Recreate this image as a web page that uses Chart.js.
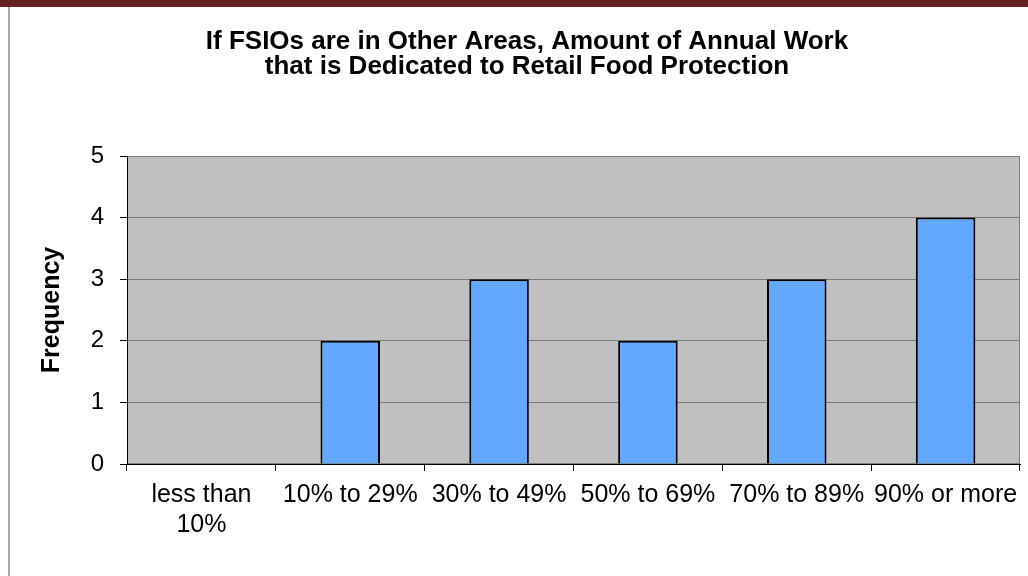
<!DOCTYPE html>
<html lang="en">
<head>
  <meta charset="UTF-8">
  <title>FSIOs Annual Work - Retail Food Protection</title>
  <script src="https://cdn.jsdelivr.net/npm/chart.js"></script>
  <style>
    html, body { margin: 0; padding: 0; background: #fff; }
    body { width: 1028px; height: 576px; position: relative; overflow: hidden; }
    .topband { position: absolute; left: 0; top: 0; width: 1028px; height: 7px; background: #64211f; }
    .sideline { position: absolute; left: 8px; top: 7px; width: 2px; height: 569px; background: #a6a6a6; }
    #chart { position: absolute; left: 0; top: 0; }
  </style>
</head>
<body>
  <div class="topband"></div>
  <div class="sideline"></div>
  <canvas id="chart" width="1028" height="576"></canvas>
  <script>
    const categories = [
      ['less than', '10%'],
      '10% to 29%',
      '30% to 49%',
      '50% to 69%',
      '70% to 89%',
      '90% or more'
    ];
    const frequency = [0, 2, 3, 2, 3, 4];
    const yTicks = [0, 1, 2, 3, 4, 5];

    const FONT = "'Liberation Sans', Arial, sans-serif";

    // grey plot background with a thin frame
    const plotBackground = {
      id: 'plotBackground',
      beforeDraw(chart) {
        const a = chart.chartArea;
        const c = chart.ctx;
        c.save();
        c.fillStyle = '#c0c0c0';
        c.fillRect(a.left, a.top, a.right - a.left, a.bottom - a.top);
        c.strokeStyle = '#808080';
        c.lineWidth = 1;
        c.strokeRect(a.left + 0.5, a.top + 0.5, a.right - a.left - 1, a.bottom - a.top - 1);
        c.restore();
      }
    };

    new Chart(document.getElementById('chart').getContext('2d'), {
      type: 'bar',
      data: {
        labels: categories,
        datasets: [{
          label: 'Frequency',
          data: frequency,
          backgroundColor: '#62a8ff',
          borderColor: '#000',
          borderWidth: 2,
          borderSkipped: 'start',
          barPercentage: 0.4,
          categoryPercentage: 1.0
        }]
      },
      options: {
        responsive: false,
        animation: false,
        layout: { padding: { left: 34, right: 8, top: 0, bottom: 0 } },
        plugins: {
          legend: { display: false },
          tooltip: { enabled: false },
          title: {
            display: true,
            text: ['If FSIOs are in Other Areas, Amount of Annual Work',
                   'that is Dedicated to Retail Food Protection'],
            color: '#000',
            font: { family: FONT, size: 26, weight: 'bold', lineHeight: 25 / 26 },
            padding: { top: 29, bottom: 77 }
          }
        },
        scales: {
          x: {
            grid: {
              offset: true,
              drawOnChartArea: false,
              tickLength: 7,
              tickColor: '#000'
            },
            border: { color: '#000', width: 1 },
            ticks: {
              color: '#000',
              padding: 9,
              maxRotation: 0,
              autoSkip: false,
              font: { family: FONT, size: 25, lineHeight: 1.2 }
            },
            afterFit(scale) { scale.height = 112; }
          },
          y: {
            min: 0,
            max: 5,
            afterBuildTicks(scale) { scale.ticks = yTicks.map(v => ({ value: v })); },
            grid: {
              color: '#7a7a7a',
              tickLength: 7,
              tickColor: '#000'
            },
            border: { color: '#000', width: 1 },
            ticks: {
              color: '#000',
              padding: 16,
              font: { family: FONT, size: 24 }
            },
            title: {
              display: true,
              text: 'Frequency',
              color: '#000',
              font: { family: FONT, size: 25, weight: 'bold' },
              padding: { top: 3, bottom: 0 }
            },
            afterFit(scale) { scale.width = 93; }
          }
        }
      },
      plugins: [plotBackground]
    });
  </script>
</body>
</html>
